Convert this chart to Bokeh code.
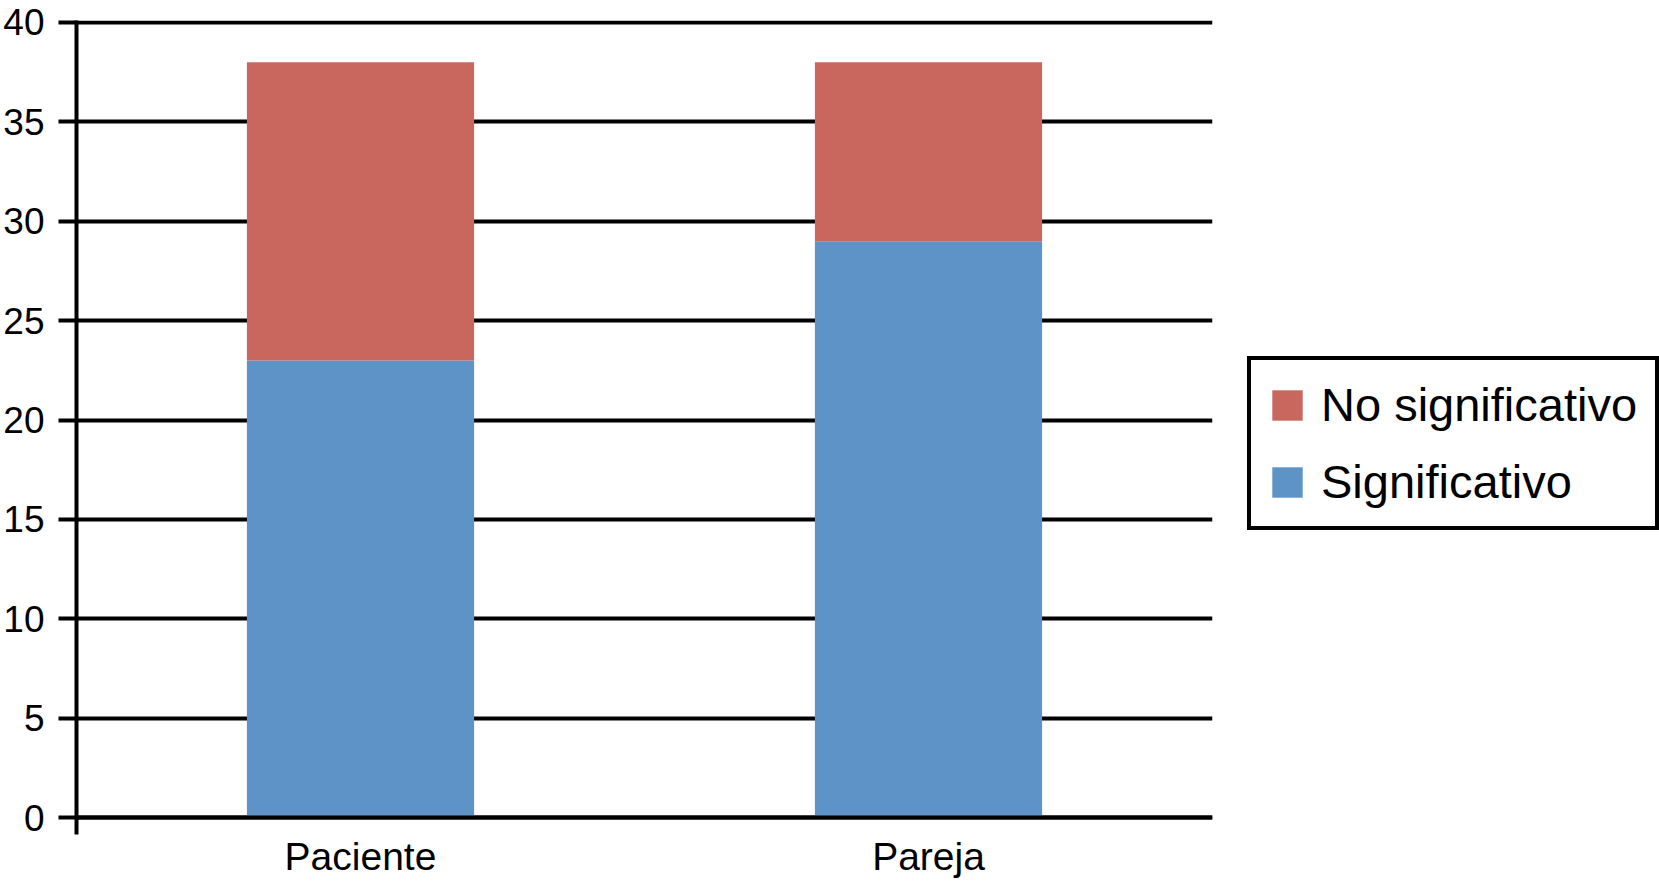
from bokeh.plotting import figure
from bokeh.layouts import row
from bokeh.models import ColumnDataSource, Range1d, FixedTicker, Legend, LegendItem, Span
from bokeh.embed import file_html
from bokeh.resources import INLINE

categories = ["Paciente", "Pareja"]
significativo = [23, 29]
no_significativo = [15, 9]
legend_labels = ["No significativo", "Significativo"]
y_ticks = [0, 5, 10, 15, 20, 25, 30, 35, 40]

RED = "#C9675F"
BLUE = "#5D93C6"
FONT = "Liberation Sans"

source = ColumnDataSource(dict(cat=categories, sig=significativo, nosig=no_significativo))

# main chart
p = figure(x_range=categories, y_range=Range1d(-0.85, 40.1),
           width=1230, height=892, output_backend="svg", toolbar_location=None,
           min_border_left=75, min_border_right=18, min_border_top=20, min_border_bottom=58)
p.outline_line_color = None
p.background_fill_color = "white"

renderers = p.vbar_stack(["sig", "nosig"], x="cat", width=0.4, source=source,
                         color=[BLUE, RED], line_color=None)

p.add_layout(Span(location=0, dimension="width", line_color="black", line_width=4, level="overlay"))

p.xgrid.grid_line_color = None
p.ygrid.grid_line_color = "black"
p.ygrid.grid_line_width = 4
p.ygrid.ticker = FixedTicker(ticks=y_ticks)

ya = p.yaxis[0]
ya.ticker = FixedTicker(ticks=y_ticks)
ya.axis_line_color = "black"
ya.axis_line_width = 4
ya.major_tick_line_width = 4
ya.major_tick_out = 18
ya.major_tick_in = 0
ya.minor_tick_line_color = None
ya.major_label_standoff = 14
ya.major_label_text_font = FONT
ya.major_label_text_font_size = "37px"
ya.major_label_text_color = "black"

xa = p.xaxis[0]
xa.axis_line_color = None
xa.major_tick_line_color = None
xa.major_tick_out = 0
xa.major_tick_in = 0
xa.minor_tick_line_color = None
xa.major_label_standoff = 0
xa.major_label_text_font = FONT
xa.major_label_text_font_size = "39px"
xa.major_label_text_color = "black"

# legend panel (second figure; zero-size proxy bars carry the legend styles)
p2 = figure(width=429, height=892, output_backend="svg", toolbar_location=None,
            x_range=Range1d(0, 1), y_range=Range1d(0, 1), title=None,
            x_axis_location=None, y_axis_location=None,
            min_border_left=0, min_border_right=0, min_border_top=0, min_border_bottom=0)
p2.outline_line_color = None
p2.xgrid.grid_line_color = None
p2.ygrid.grid_line_color = None
proxy = ColumnDataSource(dict(x=[-50], zero=[-5]))
r_nosig = p2.vbar(x="x", bottom="zero", top="zero", width=0.01, source=proxy,
                  fill_color=RED, line_color=None)
r_sig = p2.vbar(x="x", bottom="zero", top="zero", width=0.01, source=proxy,
                fill_color=BLUE, line_color=None)

legend = Legend(items=[LegendItem(label=legend_labels[0], renderers=[r_nosig]),
                       LegendItem(label=legend_labels[1], renderers=[r_sig])],
                location=(17, 304), orientation="vertical",
                border_line_color="black", border_line_width=4, border_line_alpha=1.0,
                background_fill_color="white", background_fill_alpha=1.0,
                glyph_width=38, glyph_height=38, label_standoff=15, label_width=317,
                label_text_font=FONT, label_text_font_size="47px", label_text_color="black",
                padding=17, spacing=22, margin=0)
p2.add_layout(legend, "center")

open("out.html", "w").write(file_html(row(p, p2), INLINE))
